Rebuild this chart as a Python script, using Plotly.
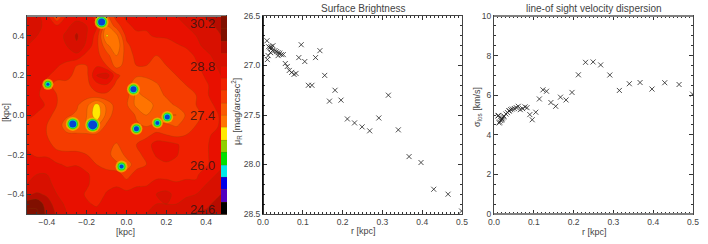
import plotly.graph_objects as go

W, H = 708, 244
FONT = "Liberation Sans"
TXT = "#444444"

# ---- panel 1: surface brightness map (top row first, y = 0.5 .. -0.5)
map_x = [-0.5, -0.45, -0.4, -0.35, -0.3, -0.25, -0.2, -0.15, -0.1, -0.05, 0.0,
         0.05, 0.1, 0.15, 0.2, 0.25, 0.3, 0.35, 0.4, 0.45, 0.5]
map_y = [0.5, 0.45, 0.4, 0.35, 0.3, 0.25, 0.2, 0.15, 0.1, 0.05, 0.0,
         -0.05, -0.1, -0.15, -0.2, -0.25, -0.3, -0.35, -0.4, -0.45, -0.5]
map_z = [
 [29.0,28.9,28.6,27.7,28.5,28.6,28.6,28.3,27.6,28.3,28.5,28.6,28.7,28.6,28.7,28.8,28.9,29.0,29.2,29.4,29.6],
 [28.9,28.9,28.7,28.5,28.7,29.0,28.8,28.5,27.4,27.9,28.4,28.5,28.5,28.6,28.5,28.6,28.8,28.9,29.0,29.2,29.4],
 [28.9,28.8,28.7,28.6,28.9,29.2,28.8,28.3,27.0,27.3,28.2,28.4,28.4,28.5,28.5,28.6,28.6,28.8,28.9,29.0,29.3],
 [28.8,28.7,28.6,28.6,28.8,29.1,28.7,28.2,27.5,27.1,28.0,28.3,28.3,28.2,28.3,28.4,28.5,28.7,28.9,29.0,29.2],
 [28.7,28.6,28.5,28.6,28.7,28.7,28.3,28.2,27.9,27.4,27.9,28.2,28.2,28.1,28.2,28.3,28.3,28.5,28.7,28.9,29.1],
 [28.6,28.6,28.5,28.5,28.3,28.1,28.1,28.4,28.1,27.6,27.9,28.1,28.1,28.0,28.1,28.2,28.3,28.4,28.6,28.8,29.0],
 [28.6,28.6,28.5,28.3,28.2,28.0,28.0,28.8,29.0,28.2,27.9,27.8,27.8,27.9,28.0,28.1,28.2,28.3,28.5,28.7,28.9],
 [28.7,28.6,28.3,27.9,28.0,28.1,28.0,28.3,28.4,28.0,27.9,27.5,27.6,27.7,27.9,28.0,28.1,28.2,28.4,28.6,28.8],
 [28.6,28.5,28.3,28.1,28.0,27.9,27.9,28.0,28.0,28.0,27.9,27.3,27.5,27.6,27.8,27.9,28.0,28.1,28.4,28.6,28.8],
 [28.7,28.6,28.4,28.1,27.9,27.8,27.5,26.9,27.5,27.9,27.8,27.3,27.2,27.5,27.6,27.8,27.9,28.1,28.3,28.5,28.7],
 [28.6,28.4,28.2,28.0,27.8,27.7,27.4,26.8,27.5,28.0,28.0,27.7,27.4,27.5,27.4,27.4,27.8,28.0,28.2,28.4,28.6],
 [28.3,28.2,28.1,27.9,27.6,27.5,27.4,27.3,27.8,27.9,28.0,27.8,27.7,27.8,27.8,27.7,27.9,28.1,28.2,28.4,28.6],
 [28.3,28.2,28.1,27.9,27.8,27.8,27.8,27.8,27.8,28.0,28.0,27.9,28.0,28.2,28.1,28.0,28.1,28.2,28.4,28.5,28.7],
 [28.4,28.3,28.2,28.0,27.9,27.9,28.0,28.1,27.9,27.7,28.0,28.1,28.3,28.6,28.6,28.5,28.3,28.3,28.4,28.6,28.7],
 [28.5,28.4,28.4,28.2,28.2,28.2,28.1,28.1,28.0,27.4,27.9,28.0,28.2,28.5,28.6,28.5,28.2,28.3,28.4,28.6,28.8],
 [28.6,28.6,28.6,28.5,28.4,28.4,28.3,28.1,28.0,27.9,27.5,28.0,28.1,28.3,28.4,28.3,28.3,28.3,28.4,28.6,28.8],
 [28.7,28.8,28.8,28.7,28.6,28.8,28.5,28.3,28.2,28.2,28.0,28.2,28.3,28.3,28.3,28.3,28.4,28.4,28.6,28.8,29.0],
 [28.8,28.9,28.9,28.7,28.7,28.8,28.5,28.3,28.3,28.4,28.2,28.4,28.4,28.6,28.6,28.5,28.5,28.5,28.8,29.0,29.1],
 [29.1,29.2,29.1,28.8,28.7,28.6,28.4,28.2,28.5,28.6,28.6,28.6,28.7,28.8,28.9,28.7,28.7,28.8,28.9,29.1,29.2],
 [29.7,29.8,29.3,29.0,28.7,28.6,28.5,28.4,28.6,28.8,28.7,28.7,28.8,28.8,28.8,28.8,29.0,29.0,29.1,29.2,29.3],
 [30.0,29.9,29.4,29.1,28.8,28.7,28.6,28.6,28.7,28.8,28.8,28.8,28.8,28.9,28.9,29.0,29.1,29.2,29.2,29.3,29.4],
]
band_colors = ["#000000", "#5000c0", "#0000e8", "#00e8e8", "#00e000", "#90d000",
               "#ffe800", "#f0a000", "#ff7400", "#fa5a00", "#f53c00", "#f02000",
               "#e81000", "#d81000", "#b80c00", "#801000"]
level_labels = ["30.2", "28.8", "27.4", "26.0", "24.6"]
level_label_y = [30.0, 28.78, 27.38, 25.98, 24.72]

# compact sources in the map
spot_x = [-0.125, -0.395, 0.035, -0.27, -0.17, 0.05, 0.155, 0.205, -0.025]
spot_y = [0.47, 0.155, 0.13, -0.045, -0.05, -0.07, -0.04, -0.01, -0.26]
spot_d = [14, 11, 13, 14, 15, 12, 11, 12, 12]
spot_core = [7, 3, 6, 7, 9, 5, 4, 5, 4]

# ---- panels 2 and 3: radial profiles
r_kpc = [.010, .014, .011, .013, .017, .020, .025, .019, .024, .021, .030, .034, .038, .042, .038,
         .046, .051, .056, .061, .066, .072, .078, .083, .090, .096, .105, .114, .123, .132, .143,
         .155, .167, .181, .196, .212, .230, .249, .268, .291, .315, .340, .367, .397, .429, .465, .499]
mu_r = [26.75, 26.81, 26.94, 26.90, 26.82, 26.81, 26.80, 26.87, 26.85, 26.83, 26.85, 26.86, 26.87, 26.875, 26.90,
        26.89, 26.89, 26.98, 27.01, 27.05, 27.07, 27.09, 27.08, 26.92, 26.79, 26.96, 27.20, 27.20, 26.92, 26.85,
        27.10, 27.36, 27.25, 27.35, 27.54, 27.58, 27.62, 27.66, 27.53, 27.30, 27.65, 27.92, 27.98, 28.25, 28.30, 28.47]
sigma_los = [4.95, 4.65, 4.98, 4.60, 4.72, 4.80, 4.95, 4.75, 4.90, 4.85, 5.05, 5.12, 5.22, 5.27, 5.20,
             5.30, 5.33, 5.37, 5.44, 5.27, 5.32, 5.41, 5.37, 5.02, 4.76, 5.14, 5.81, 6.27, 6.20, 5.63,
             5.44, 5.90, 5.76, 6.14, 7.03, 7.66, 7.68, 7.53, 7.02, 6.24, 6.58, 6.64, 6.31, 6.63, 6.54, 6.05]

fig = go.Figure()


def stepped(cols):
    n = len(cols)
    out = []
    for i, c in enumerate(cols):
        out += [[i / n, c], [(i + 1) / n, c]]
    return out


def px_dom(a, b, total):
    return [a / total, b / total]


fig.add_trace(go.Contour(
    x=map_x, y=map_y, z=map_z, zmin=24.6, zmax=30.2, autocontour=False,
    contours=dict(start=24.6, end=30.2, size=0.35, coloring="fill"),
    colorscale=stepped(band_colors),
    line=dict(color="rgba(130,70,0,0.35)", width=0.7, smoothing=1),
    colorbar=dict(x=221 / W, xanchor="left", xpad=0, ypad=0, thickness=5.5, thicknessmode="pixels",
                  len=198, lenmode="pixels", y=1 - 115 / H, yanchor="middle",
                  outlinewidth=0, showticklabels=False, ticks=""),
    hoverinfo="skip", xaxis="x", yaxis="y"))

rings = [(1.0, "#f8c000"), (0.75, "#a8d800"), (0.5, "#00e000"), (0.25, "#00e8e8"), (0.0, "#0000e8")]
for frac, col in rings:
    fig.add_trace(go.Scatter(x=spot_x, y=spot_y, mode="markers", showlegend=False, hoverinfo="skip",
                             marker=dict(size=[c + (d - c) * frac for d, c in zip(spot_d, spot_core)],
                                         color=col, line=dict(width=0)),
                             xaxis="x", yaxis="y"))

mark = dict(symbol="x-thin", size=5, line=dict(color="#222222", width=0.8))
fig.add_trace(go.Scatter(x=r_kpc, y=mu_r, mode="markers", marker=mark, showlegend=False, xaxis="x2", yaxis="y2"))
fig.add_trace(go.Scatter(x=r_kpc, y=sigma_los, mode="markers", marker=mark, showlegend=False, xaxis="x3", yaxis="y3"))

tf = dict(family=FONT, size=8.5, color=TXT)
base = dict(showgrid=False, zeroline=False, ticks="inside", ticklen=4, tickwidth=1, tickcolor="#333333",
            showline=True, mirror="allticks", linewidth=1, linecolor="#444444", tickfont=tf)


def ax(dom, rng, dtick, minor, anchor, fmt):
    t0 = 0 if dtick != 0.5 else 26.5
    return dict(base, domain=dom, range=rng, dtick=dtick, tick0=t0, anchor=anchor, tickformat=fmt,
                minor=dict(ticks="inside", ticklen=2, tickwidth=1, tickcolor="#333333", dtick=minor, tick0=t0))


ydom = [1 - 214 / H, 1 - 16 / H]
fig.update_layout(
    width=W, height=H, autosize=False, paper_bgcolor="white", plot_bgcolor="white",
    margin=dict(l=0, r=0, t=0, b=0, autoexpand=False), showlegend=False,
    xaxis=ax(px_dom(27, 226, W), [-0.5, 0.5], 0.2, 0.05, "y", ".1f"),
    yaxis=ax(ydom, [-0.5, 0.5], 0.2, 0.05, "x", ".1f"),
    xaxis2=ax(px_dom(263, 462, W), [0, 0.5], 0.1, 0.01, "y2", ".1f"),
    yaxis2=ax(ydom, [28.5, 26.5], 0.5, 0.1, "x2", ".1f"),
    xaxis3=ax(px_dom(494, 693, W), [0, 0.5], 0.1, 0.01, "y3", ".1f"),
    yaxis3=ax(ydom, [0, 10], 2, 0.5, "x3", "d"),
)


def frame_line(ref_x, ref_y, x0, y0, x1, y1, color, width):
    fig.add_shape(type="line", xref=ref_x, yref=ref_y, x0=x0, y0=y0, x1=x1, y1=y1,
                  line=dict(color=color, width=width), layer="above")


frame_line("x domain", "y domain", 0, 1, 1, 1, "#808080", 2)
frame_line("x2 domain", "y2 domain", 0, 0, 0, 1, "#000000", 1.6)
frame_line("x3 domain", "y3 domain", 0, 1, 1, 1, "#808080", 2)
frame_line("x3 domain", "y3 domain", 0, 0, 1, 0, "#808080", 2)


def note(text, xp, yp, size=9, angle=0, color=TXT, anchor="center"):
    fig.add_annotation(text=text, x=xp / W, y=1 - yp / H, xref="paper", yref="paper", showarrow=False,
                       textangle=angle, xanchor=anchor, yanchor="middle",
                       font=dict(family=FONT, size=size, color=color))


note("Surface Brightness", 363, 8, size=10)
note("line-of sight velocity dispersion", 594, 8, size=10)
note("[kpc]", 125, 232)
note("[kpc]", 6, 113, angle=-90)
note("r [kpc]", 363, 231)
note("r [kpc]", 594, 232)
note("μ<sub>R</sub> [mag/arcsec<sup>2</sup>]", 236, 112, angle=-90)
note("σ<sub>los</sub> [km/s]", 477, 107, angle=-90)

for lab, val in zip(level_labels, level_label_y):
    fig.add_annotation(text=lab, x=217 / W, xref="paper", y=1 - (16 + (30.2 - val) / 5.6 * 198) / H, yref="paper",
                       showarrow=False, xanchor="right", yanchor="middle",
                       font=dict(family=FONT, size=13, color="rgba(50,20,20,0.85)"))

fig.write_html("out.html", config=dict(displayModeBar=False), post_script="document.body.style.margin='0';")
